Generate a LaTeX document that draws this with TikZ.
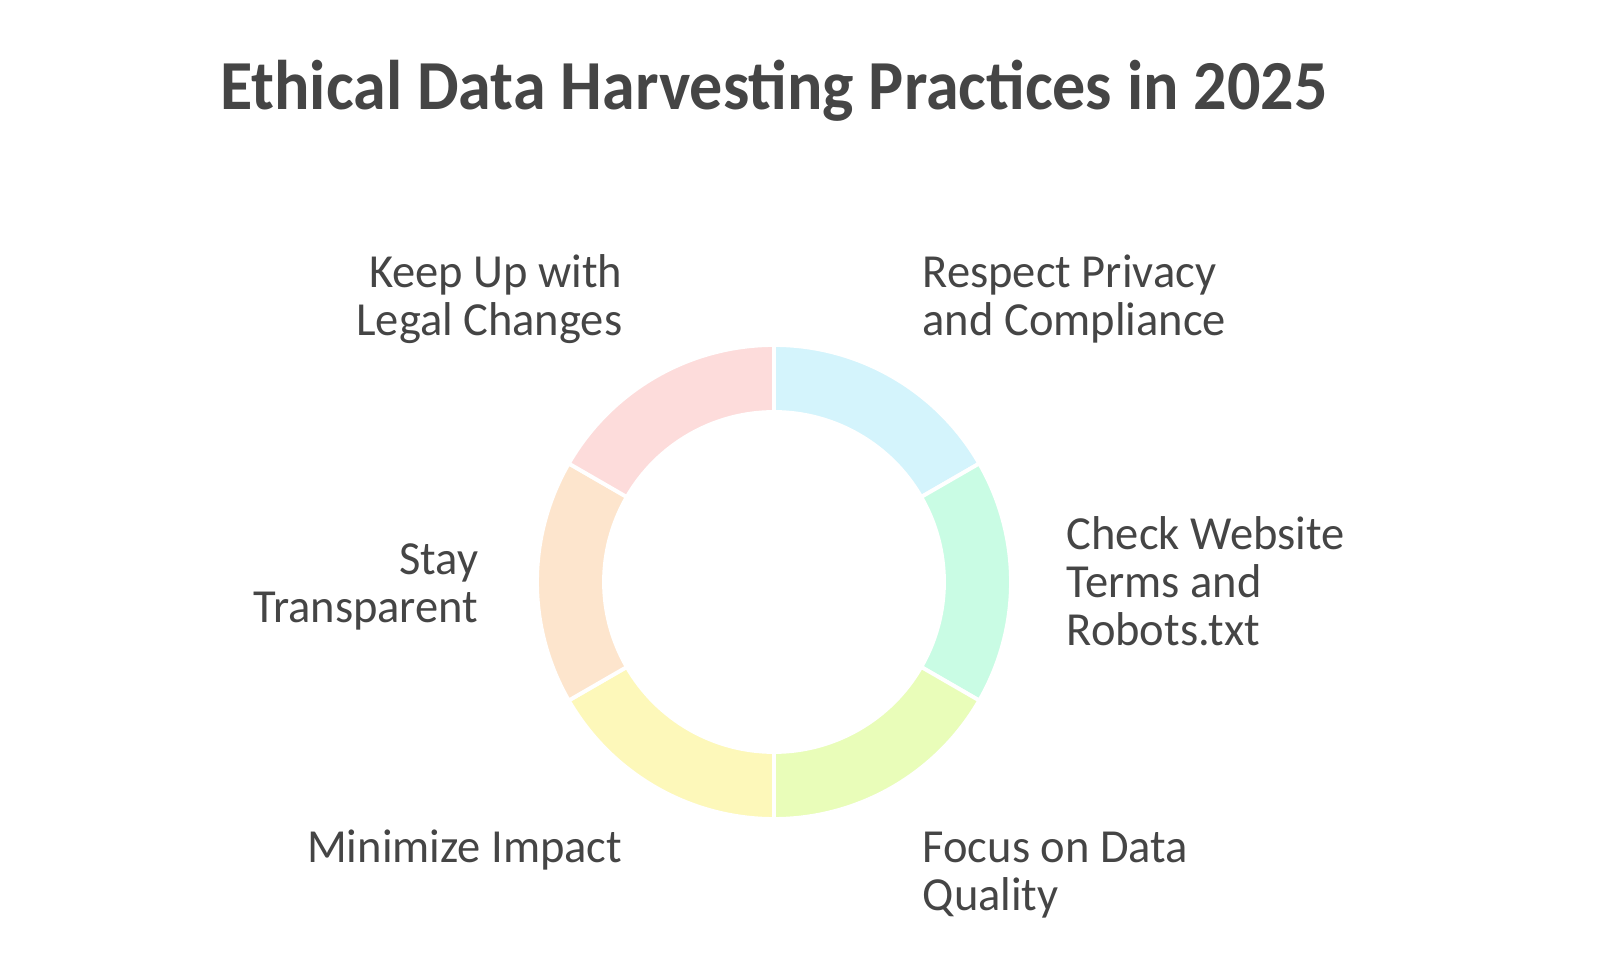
\documentclass[tikz,border=0pt]{standalone}
\usepackage{fontspec}
\setmainfont{Carlito}[FakeStretch=0.98]
\newfontfamily\headfont{Carlito}[FakeStretch=0.94]
\usetikzlibrary{positioning}
\definecolor{inkgray}{HTML}{454545}
\definecolor{segblue}{HTML}{D4F4FC}
\definecolor{segmint}{HTML}{C9FCE4}
\definecolor{seglime}{HTML}{E9FDB9}
\definecolor{segyellow}{HTML}{FDF8BA}
\definecolor{segpeach}{HTML}{FDE5CD}
\definecolor{segpink}{HTML}{FDDCDB}
\tikzset{
    title/.style={
        text=inkgray,
        inner sep=0pt,
        font={\headfont\fontsize{20}{23}\selectfont\bfseries}},
    label/.style={
        text=inkgray,
        inner sep=0pt,
        font={\fontsize{13.5}{13.7}\selectfont}},
    segment/.style={
        draw=white,
        line width=1.1pt}}

\begin{document}
\begin{tikzpicture}
        \useasboundingbox (0,0) rectangle (15.97,9.59);
        \coordinate (c) at (7.74,3.77);

        \fill[segblue,segment]   ([shift={(90:2.37)}]c) arc (90:30:2.37) -- ([shift={(30:1.70)}]c) arc (30:90:1.70) -- cycle;
        \fill[segmint,segment]   ([shift={(30:2.37)}]c) arc (30:-30:2.37) -- ([shift={(-30:1.70)}]c) arc (-30:30:1.70) -- cycle;
        \fill[seglime,segment]   ([shift={(-30:2.37)}]c) arc (-30:-90:2.37) -- ([shift={(-90:1.70)}]c) arc (-90:-30:1.70) -- cycle;
        \fill[segyellow,segment] ([shift={(-90:2.37)}]c) arc (-90:-150:2.37) -- ([shift={(-150:1.70)}]c) arc (-150:-90:1.70) -- cycle;
        \fill[segpeach,segment]  ([shift={(-150:2.37)}]c) arc (-150:-210:2.37) -- ([shift={(150:1.70)}]c) arc (150:210:1.70) -- cycle;
        \fill[segpink,segment]   ([shift={(150:2.37)}]c) arc (150:90:2.37) -- ([shift={(90:1.70)}]c) arc (90:150:1.70) -- cycle;

        \node[title,anchor=base] (head) at (7.74,8.49) {Ethical Data Harvesting Practices in 2025};

        % base anchor sits on the last line
        \node[label,anchor=base east,align=right] (legal) at (6.23,6.23) {Keep Up with\\Legal Changes};
        \node[label,anchor=base west,align=left] (privacy) at (9.22,6.23) {Respect Privacy\\and Compliance};
        \node[label,anchor=base east,align=right] (transparent) at (4.79,3.36) {Stay\\Transparent};
        \node[label,anchor=base west,align=left] (terms) at (10.66,3.13) {Check Website\\Terms and\\Robots.txt};
        \node[label,anchor=base east,align=right] (impact) at (6.23,0.96) {Minimize Impact};
        \node[label,anchor=base west,align=left] (quality) at (9.22,0.48) {Focus on Data\\Quality};
    \end{tikzpicture}
\end{document}
